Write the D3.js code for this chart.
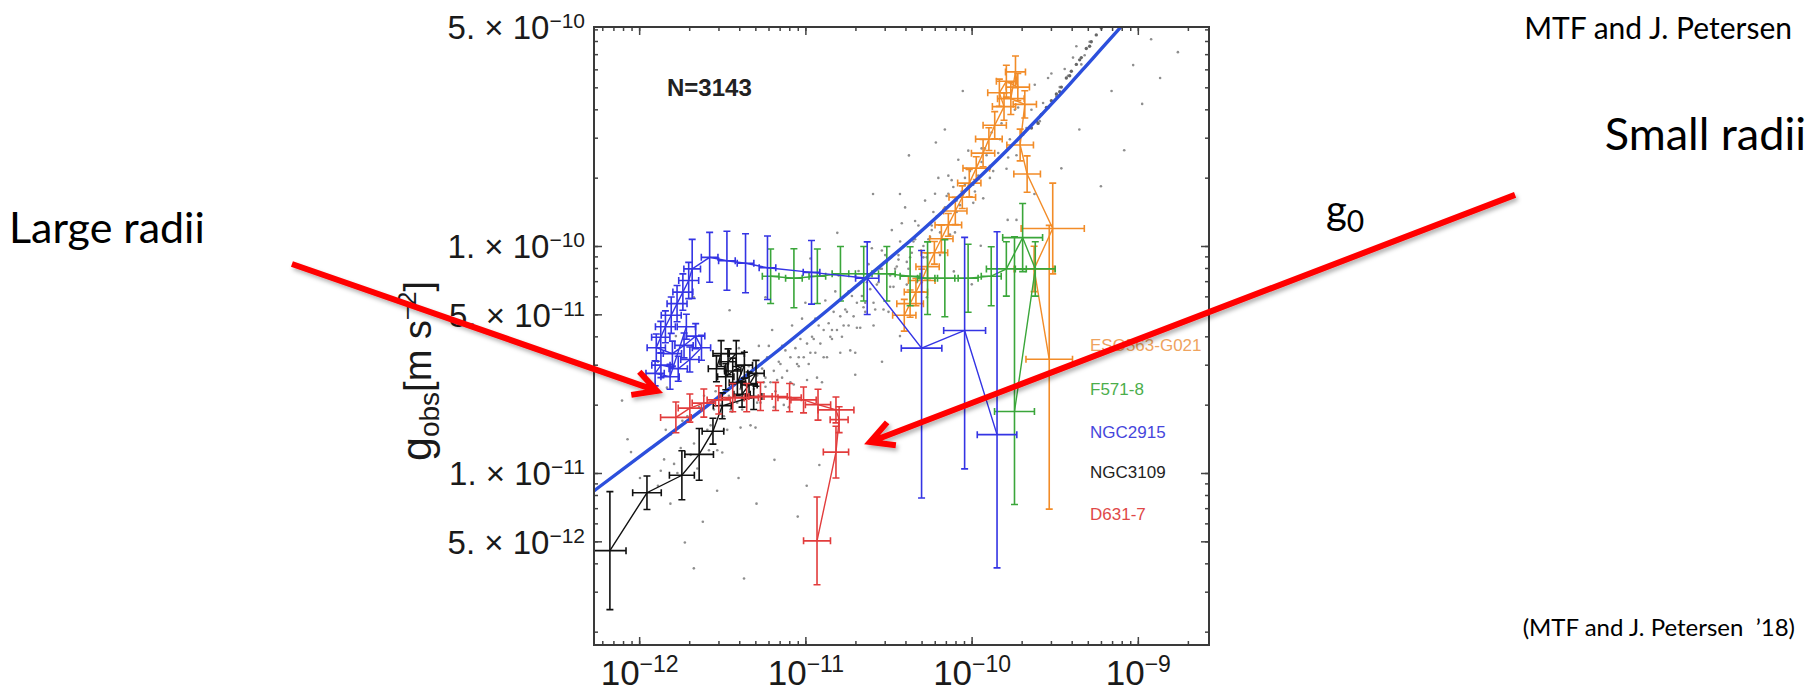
<!DOCTYPE html>
<html>
<head>
<meta charset="utf-8">
<script src="https://cdn.jsdelivr.net/npm/d3@7"></script>
<style>
  html, body { margin: 0; padding: 0; background: #fff; }
  svg { display: block; }
</style>
</head>
<body>
<svg id="chart" width="1818" height="691"></svg>
<script>
// axis ranges (m s^-2)
var xDomain = [5.35e-13, 2.68e-9];
var yDomain = [1.747e-12, 9.22e-10];
var xMajor = [1e-12, 1e-11, 1e-10, 1e-9];
var yMajor = [5e-12, 1e-11, 5e-11, 1e-10];
var yTopLabel = 5e-10;
var g0 = 1.91e-10;

// galaxies: [log10 gbar, log10 gobs, err gbar (dex), err gobs down (dex), err gobs up (dex)]
var eso563 = [
  [-9.533, -10.499, 0.14, 0.66, 0.59], [-9.624, -10.101, 0.12, 0.10], [-9.512, -9.923, 0.19, 0.20],
  [-9.666, -9.683, 0.08, 0.08], [-9.708, -9.555, 0.08, 0.07], [-9.680, -9.376, 0.07, 0.06],
  [-9.764, -9.351, 0.08, 0.07], [-9.736, -9.233, 0.06, 0.07], [-9.722, -9.300, 0.07, 0.06],
  [-9.791, -9.274, 0.06, 0.07], [-9.833, -9.325, 0.07, 0.06], [-9.805, -9.386, 0.07, 0.06],
  [-9.861, -9.468, 0.07, 0.06], [-9.896, -9.529, 0.08, 0.05], [-9.931, -9.591, 0.07, 0.06],
  [-9.972, -9.657, 0.08, 0.05], [-10.014, -9.723, 0.07, 0.06], [-10.056, -9.785, 0.08, 0.05],
  [-10.098, -9.846, 0.07, 0.06], [-10.140, -9.907, 0.08, 0.05], [-10.182, -9.968, 0.07, 0.06],
  [-10.224, -10.030, 0.08, 0.05], [-10.265, -10.091, 0.07, 0.06], [-10.300, -10.152, 0.08, 0.05],
  [-10.335, -10.203, 0.07, 0.06], [-10.370, -10.254, 0.08, 0.06], [-10.405, -10.305, 0.07, 0.07]
];
var f571 = [
  [-11.209, -10.133, 0.05, 0.12], [-11.069, -10.142, 0.05, 0.13], [-10.928, -10.133, 0.05, 0.12],
  [-10.789, -10.122, 0.05, 0.12], [-10.649, -10.122, 0.05, 0.12], [-10.510, -10.122, 0.05, 0.12],
  [-10.370, -10.133, 0.06, 0.13], [-10.265, -10.142, 0.06, 0.16], [-10.161, -10.142, 0.06, 0.17],
  [-10.021, -10.142, 0.06, 0.15], [-9.882, -10.133, 0.06, 0.13], [-9.791, -10.101, 0.12, 0.12],
  [-9.693, -9.963, 0.12, 0.15], [-9.617, -10.101, 0.12, 0.12], [-9.742, -10.729, 0.12, 0.41, 0.77]
];
var ngc2915 = [
  [-9.847, -10.831, 0.119, 0.587, 0.894], [-10.042, -10.372, 0.126, 0.61, 0.41],
  [-10.301, -10.450, 0.122, 0.66, 0.43], [-10.628, -10.142, 0.07, 0.16], [-10.963, -10.116, 0.05, 0.14],
  [-11.228, -10.096, 0.05, 0.14], [-11.360, -10.076, 0.05, 0.13], [-11.472, -10.065, 0.05, 0.13],
  [-11.576, -10.050, 0.05, 0.11], [-11.681, -10.101, 0.05, 0.13], [-11.702, -10.152, 0.06, 0.08],
  [-11.737, -10.203, 0.06, 0.08], [-11.772, -10.254, 0.06, 0.08], [-11.807, -10.305, 0.06, 0.08],
  [-11.842, -10.356, 0.06, 0.07], [-11.870, -10.402, 0.055, 0.07], [-11.897, -10.448, 0.055, 0.06],
  [-11.800, -10.474, 0.055, 0.055], [-11.730, -10.438, 0.055, 0.055], [-11.660, -10.397, 0.055, 0.055],
  [-11.625, -10.448, 0.055, 0.055], [-11.695, -10.500, 0.055, 0.055], [-11.765, -10.541, 0.055, 0.055],
  [-11.869, -10.525, 0.055, 0.055], [-11.904, -10.561, 0.055, 0.055], [-11.814, -10.576, 0.055, 0.055],
  [-11.716, -10.356, 0.055, 0.055]
];
var ngc3109 = [
  [-12.176, -11.342, 0.097, 0.26], [-11.953, -11.087, 0.086, 0.074], [-11.743, -11.010, 0.075, 0.108],
  [-11.639, -10.918, 0.086, 0.114], [-11.556, -10.816, 0.065, 0.057], [-11.500, -10.704, 0.054, 0.057],
  [-11.311, -10.663, 0.049, 0.057], [-11.381, -10.653, 0.049, 0.057], [-11.339, -10.612, 0.049, 0.057],
  [-11.297, -10.561, 0.049, 0.057], [-11.409, -10.602, 0.049, 0.057], [-11.367, -10.525, 0.049, 0.057],
  [-11.437, -10.551, 0.049, 0.057], [-11.479, -10.576, 0.049, 0.057], [-11.465, -10.510, 0.049, 0.057],
  [-11.416, -10.474, 0.049, 0.057], [-11.507, -10.474, 0.049, 0.057], [-11.535, -10.541, 0.049, 0.057]
];
var d631 = [
  [-10.930, -11.299, 0.081, 0.193], [-10.816, -10.908, 0.076, 0.114], [-10.797, -10.765, 0.054, 0.057],
  [-10.816, -10.722, 0.108, 0.057], [-10.924, -10.699, 0.076, 0.068], [-11.011, -10.678, 0.076, 0.057],
  [-11.095, -10.668, 0.07, 0.062], [-11.179, -10.663, 0.07, 0.062], [-11.270, -10.663, 0.07, 0.062],
  [-11.353, -10.668, 0.07, 0.062], [-11.437, -10.668, 0.07, 0.062], [-11.521, -10.678, 0.07, 0.062],
  [-11.611, -10.692, 0.07, 0.062], [-11.695, -10.714, 0.07, 0.062], [-11.779, -10.755, 0.092, 0.068]
];

// fitted relation
var rarGbar = [5.3e-13, 1.15e-12, 2.42e-12, 3.74e-12, 6.5e-12, 1.37e-11, 2.9e-11, 4.5e-11, 7.8e-11, 1.65e-10, 3.48e-10, 5.38e-10, 7.94e-10, 1.17e-9];
var rarGobs = [8.3e-12, 1.27e-11, 1.91e-11, 2.45e-11, 3.36e-11, 5.24e-11, 8.3e-11, 1.09e-10, 1.57e-10, 2.66e-10, 4.71e-10, 6.73e-10, 9.25e-10, 1.26e-9];

// gray cloud of all data points (sampled), [log10 gbar, log10 gobs]
var cloud = [
  [-11.84,-10.81],[-11.87,-10.99],[-11.85,-10.94],[-11.79,-10.96],[-11.81,-10.83],[-11.74,-10.77],[-11.77,-11.00],
  [-11.75,-10.89],[-11.69,-10.92],[-11.71,-10.75],[-11.64,-10.71],[-11.67,-10.87],[-11.65,-10.98],[-11.59,-10.81],
  [-11.61,-10.66],[-11.58,-10.90],[-11.54,-10.64],[-11.57,-10.79],[-11.53,-10.90],[-11.55,-10.72],[-11.49,-10.81],
  [-11.52,-10.66],[-11.48,-10.55],[-11.50,-10.91],[-11.44,-10.69],[-11.47,-10.81],[-11.43,-10.61],[-11.45,-10.72],
  [-11.39,-10.80],[-11.42,-10.52],[-11.38,-10.72],[-11.40,-10.45],[-11.34,-10.53],[-11.37,-10.68],[-11.33,-10.79],
  [-11.35,-10.61],[-11.29,-10.69],[-11.32,-10.55],[-11.28,-10.44],[-11.30,-10.80],[-11.24,-10.58],[-11.27,-10.69],
  [-11.23,-10.49],[-11.25,-10.60],[-11.19,-10.71],[-11.22,-10.44],[-11.18,-10.64],[-11.20,-10.37],[-11.14,-10.44],
  [-11.17,-10.59],[-11.13,-10.70],[-11.15,-10.52],[-11.09,-10.60],[-11.12,-10.46],[-11.08,-10.35],[-11.10,-10.71],
  [-11.04,-10.49],[-11.07,-10.61],[-11.03,-10.41],[-11.05,-10.52],[-10.99,-10.59],[-11.02,-10.32],[-10.98,-10.52],
  [-11.00,-10.25],[-10.94,-10.32],[-10.97,-10.47],[-10.93,-10.58],[-10.95,-10.41],[-10.89,-10.49],[-10.92,-10.35],
  [-10.88,-10.24],[-10.90,-10.60],[-10.84,-10.37],[-10.87,-10.49],[-10.83,-10.29],[-10.85,-10.40],[-10.79,-10.47],
  [-10.82,-10.20],[-10.78,-10.40],[-10.80,-10.13],[-10.74,-10.20],[-10.77,-10.35],[-10.73,-10.46],[-10.75,-10.29],
  [-10.69,-10.36],[-10.72,-10.22],[-10.68,-10.11],[-10.70,-10.47],[-10.64,-10.25],[-10.67,-10.36],[-10.63,-10.16],
  [-10.65,-10.27],[-10.59,-10.35],[-10.62,-10.08],[-10.58,-10.28],[-10.60,-10.01],[-10.54,-10.02],[-10.57,-10.17],
  [-10.53,-10.28],[-10.55,-10.10],[-10.49,-10.18],[-10.52,-10.04],[-10.48,-9.93],[-10.50,-10.29],[-10.44,-10.06],
  [-10.47,-10.18],[-10.43,-9.98],[-10.45,-10.09],[-10.39,-10.17],[-10.42,-9.90],[-10.38,-10.10],[-10.40,-9.83],
  [-10.34,-9.89],[-10.37,-10.05],[-10.33,-10.16],[-10.35,-9.98],[-10.29,-10.05],[-10.32,-9.91],[-10.28,-9.80],
  [-10.30,-10.16],[-10.24,-9.93],[-10.27,-10.05],[-10.23,-9.85],[-10.25,-9.96],[-10.19,-10.04],[-10.22,-9.77],
  [-10.18,-9.97],[-10.20,-9.70],[-10.14,-9.69],[-10.17,-9.84],[-10.13,-9.95],[-10.15,-9.78],[-10.09,-9.85],
  [-10.12,-9.71],[-10.08,-9.62],[-10.10,-9.94],[-10.04,-9.73],[-10.07,-9.82],[-10.03,-9.66],[-9.99,-9.81],
  [-10.02,-9.58],[-9.98,-9.76],[-9.94,-9.57],[-9.97,-9.71],[-9.93,-9.79],[-9.89,-9.70],[-9.92,-9.57],
  [-9.88,-9.50],[-9.84,-9.59],[-9.87,-9.67],[-9.83,-9.53],[-9.79,-9.66],[-9.82,-9.46],[-9.78,-9.61],
  [-9.74,-9.40],[-9.77,-9.53],[-9.73,-9.60],[-9.69,-9.51],[-9.72,-9.39],[-9.64,-9.40],[-9.67,-9.48],
  [-9.59,-9.45],[-9.62,-9.29],[-9.54,-9.26],[-9.57,-9.37],[-9.49,-9.34],[-9.52,-9.24],[-9.44,-9.22],
  [-9.47,-9.30],[-9.39,-9.17],[-9.42,-9.25],[-9.34,-9.20],[-9.37,-9.12],[-9.29,-9.10],[-9.32,-9.16],
  // denser core of the band
  [-11.51,-10.70],[-11.49,-10.75],[-11.46,-10.66],[-11.44,-10.73],[-11.41,-10.69],[-11.39,-10.63],
  [-11.36,-10.60],[-11.34,-10.67],[-11.31,-10.63],[-11.29,-10.57],[-11.26,-10.54],[-11.24,-10.62],
  [-11.21,-10.60],[-11.19,-10.55],[-11.16,-10.51],[-11.14,-10.58],[-11.11,-10.55],[-11.09,-10.49],
  [-11.06,-10.45],[-11.04,-10.53],[-11.01,-10.49],[-10.99,-10.43],[-10.96,-10.40],[-10.94,-10.47],
  [-10.91,-10.43],[-10.89,-10.37],[-10.86,-10.34],[-10.84,-10.41],[-10.81,-10.37],[-10.79,-10.31],
  [-10.76,-10.28],[-10.74,-10.35],[-10.71,-10.31],[-10.69,-10.25],[-10.66,-10.22],[-10.64,-10.29],
  [-10.61,-10.19],[-10.59,-10.25],[-10.56,-10.16],[-10.54,-10.10],[-10.51,-10.07],[-10.49,-10.13],
  [-10.46,-10.10],[-10.44,-10.04],[-10.41,-10.00],[-10.39,-10.07],[-10.36,-10.03],[-10.34,-9.97],
  [-10.31,-9.94],[-10.29,-10.00],[-10.26,-9.97],[-10.24,-9.91],[-10.21,-9.87],[-10.19,-9.94],
  [-10.16,-9.83],[-10.14,-9.77],[-10.11,-9.74],[-10.09,-9.80],[-10.06,-9.76],[-10.04,-9.70],
  [-10.01,-9.67],[-9.99,-9.73],[-9.96,-9.69],[-9.94,-9.63],[-9.91,-9.60],[-9.89,-9.66],
  // scattered outliers
  [-12.103,-10.681],[-11.995,-11.022],[-11.887,-10.510],[-12.049,-10.908],[-11.812,-11.135],[-11.617,-11.215],
  [-11.531,-11.078],[-11.402,-11.022],[-11.294,-11.135],[-11.186,-10.942],[-11.046,-11.192],[-10.992,-11.056],
  [-10.916,-10.965],[-12.070,-10.851],[-11.887,-11.056],[-11.725,-11.306],[-11.833,-10.624],[-11.671,-11.420],
  [-11.369,-11.465],[-11.671,-10.226],[-11.456,-10.283],[-11.240,-10.226],[-10.970,-10.055],[-10.808,-9.942],
  [-10.593,-9.771],[-10.377,-9.601],[-10.161,-9.487],[-11.779,-10.397],[-8.974,-9.374],[-9.082,-9.578],
  [-9.222,-9.737],[-9.028,-9.203],[-8.920,-9.089],[-9.158,-9.317],[-9.352,-9.487],[-9.460,-9.658],
  [-8.866,-9.260],[-9.114,-8.976],[-10.053,-9.317],[-10.215,-9.544],[-10.431,-9.771],[-8.759,-9.146],
  [-9.622,-9.771],[-9.730,-9.885],[-10.269,-10.226],[-10.107,-10.112],[-9.945,-9.999],[-10.431,-10.397],
  [-10.539,-10.510],[-10.700,-10.567],[-9.999,-10.169],[-9.783,-9.885]
];
// one dense galaxy near the top of the band
var streak = [
  [-9.64,-9.48],[-9.61,-9.45],[-9.58,-9.42],[-9.55,-9.39],[-9.52,-9.36],[-9.49,-9.33],[-9.46,-9.30],
  [-9.43,-9.26],[-9.40,-9.23],[-9.37,-9.20],[-9.34,-9.17],[-9.31,-9.13],[-9.28,-9.10],[-9.25,-9.07],
  [-9.22,-9.04],[-9.60,-9.46],[-9.54,-9.39],[-9.47,-9.32],[-9.41,-9.25],[-9.35,-9.18],[-9.29,-9.12]
];

var legendNames = ["ESO563-G021", "F571-8", "NGC2915", "NGC3109", "D631-7"];
var legendColors = ["#efa35e", "#4cae4c", "#4646dc", "#222222", "#e04848"];
var seriesColors = ["#f28c28", "#3aa63a", "#3434e4", "#111111", "#e23c3c"];

// arrows in data coordinates [gbar, gobs]
var arrowLarge = {from: [8.15e-15, 8.33e-11], to: [1.28e-12, 2.30e-11]};
var arrowSmall = {from: [1.86e-7, 1.68e-10], to: [2.45e-11, 1.37e-11]};

var svg = d3.select("#chart"),
    margin = { top: 27, right: 609, bottom: 46, left: 594 },
    width = +svg.attr("width") - margin.left - margin.right,
    height = +svg.attr("height") - margin.top - margin.bottom;

svg.append("rect").attr("width", 1818).attr("height", 691).attr("fill", "#fff");

var defs = svg.append("defs");
defs.append("clipPath").attr("id", "clip")
  .append("rect").attr("width", width).attr("height", height);
defs.append("filter").attr("id", "shadow")
  .attr("x", "-20%").attr("y", "-50%").attr("width", "140%").attr("height", "200%")
  .append("feDropShadow")
  .attr("dx", 2).attr("dy", 3).attr("stdDeviation", 2)
  .attr("flood-color", "#000").attr("flood-opacity", 0.3);

var x = d3.scaleLog().domain(xDomain).range([0, width]);
var y = d3.scaleLog().domain(yDomain).range([height, 0]);
var p = function (v) { return Math.pow(10, v); };

var focus = svg.append("g")
  .attr("transform", "translate(" + margin.left + "," + margin.top + ")");
var plot = focus.append("g").attr("clip-path", "url(#clip)");

// gray points
plot.append("g").selectAll("circle")
  .data(cloud).join("circle")
  .attr("cx", function (d) { return x(p(d[0])); })
  .attr("cy", function (d) { return y(p(d[1])); })
  .attr("r", 1.3)
  .attr("fill", "#8e8e8e");

plot.append("g").selectAll("circle")
  .data(streak).join("circle")
  .attr("cx", function (d) { return x(p(d[0])); })
  .attr("cy", function (d) { return y(p(d[1])); })
  .attr("r", 1.7)
  .attr("fill", "#666");

function drawGalaxy(data, color) {
  var g = plot.append("g").attr("stroke", color).attr("fill", "none");
  g.append("path")
    .datum(data)
    .attr("d", d3.line()
      .x(function (d) { return x(p(d[0])); })
      .y(function (d) { return y(p(d[1])); }))
    .attr("stroke-width", 1.4);

  var cap = 3.5;
  var bars = g.selectAll("g.bar").data(data).join("g").attr("stroke-width", 1.6);
  bars.append("path").attr("d", function (d) {
    var up = d[4] !== undefined ? d[4] : d[3];
    var cx = x(p(d[0])), cy = y(p(d[1]));
    var x0 = x(p(d[0] - d[2])), x1 = x(p(d[0] + d[2]));
    var y0 = y(p(d[1] - d[3])), y1 = y(p(d[1] + up));
    return "M" + x0 + "," + cy + "H" + x1 +
      "M" + cx + "," + y0 + "V" + y1 +
      "M" + x0 + "," + (cy - cap) + "V" + (cy + cap) +
      "M" + x1 + "," + (cy - cap) + "V" + (cy + cap) +
      "M" + (cx - cap) + "," + y0 + "H" + (cx + cap) +
      "M" + (cx - cap) + "," + y1 + "H" + (cx + cap);
  });
}

drawGalaxy(eso563, seriesColors[0]);
drawGalaxy(f571, seriesColors[1]);
drawGalaxy(ngc2915, seriesColors[2]);

// blue relation
plot.append("path")
  .datum(rarGbar.map(function (v, i) { return [v, rarGobs[i]]; }))
  .attr("d", d3.line()
    .x(function (d) { return x(d[0]); })
    .y(function (d) { return y(d[1]); })
    .curve(d3.curveMonotoneX))
  .attr("fill", "none")
  .attr("stroke", "#2c4fdc")
  .attr("stroke-width", 3.4);

drawGalaxy(ngc3109, seriesColors[3]);
drawGalaxy(d631, seriesColors[4]);

// frame ticks (pointing inward)
var tickColor = "#444";
function frameAxis(axisFn, ticks, size, transform) {
  var a = focus.append("g")
    .attr("transform", transform)
    .call(axisFn.tickValues(ticks).tickSize(-size).tickFormat(""));
  a.select(".domain").remove();
  a.selectAll(".tick line").attr("stroke", tickColor).attr("stroke-width", 1.5);
  return a;
}
var xMinor = x.ticks(), yMinor = y.ticks();
frameAxis(d3.axisBottom(x), xMinor, 4, "translate(0," + height + ")");
frameAxis(d3.axisTop(x), xMinor, 4, "translate(0,0)");
frameAxis(d3.axisLeft(y), yMinor, 4, "translate(0,0)");
frameAxis(d3.axisRight(y), yMinor, 4, "translate(" + width + ",0)");
frameAxis(d3.axisTop(x), xMajor, 8, "translate(0,0)");
frameAxis(d3.axisRight(y), yMajor, 8, "translate(" + width + ",0)");

var tickFont = "'Liberation Sans', Arial, sans-serif";
var xAxis = frameAxis(d3.axisBottom(x), xMajor, 8, "translate(0," + height + ")");
xAxis.selectAll(".tick text")
  .attr("y", 40).attr("dy", 0)
  .attr("font-family", tickFont)
  .attr("font-size", 35)
  .attr("fill", "#1a1a1a")
  .each(function (d) {
    var t = d3.select(this).text(null);
    t.append("tspan").text("10");
    t.append("tspan").attr("dy", -13).attr("font-size", 23)
      .text("\u2212" + Math.round(-Math.log10(d)));
  });

function sciLabel(sel, v) {
  var e = Math.floor(Math.log10(v) + 1e-9);
  var m = Math.round(v / Math.pow(10, e));
  sel.append("tspan").text(m + ". \u00d7 10");
  sel.append("tspan").attr("dy", -11).attr("font-size", 21).text("\u2212" + (-e));
}

var yAxis = frameAxis(d3.axisLeft(y), yMajor, 8, "translate(0,0)");
yAxis.selectAll(".tick text")
  .attr("x", -9).attr("dy", 0).attr("y", 12)
  .attr("font-family", tickFont)
  .attr("font-size", 33)
  .attr("fill", "#1a1a1a")
  .each(function (d) { sciLabel(d3.select(this).text(null), d); });

// label printed at the top corner of the frame
var topLabel = focus.append("text")
  .attr("x", -9).attr("y", 12)
  .attr("text-anchor", "end")
  .attr("font-family", tickFont)
  .attr("font-size", 33)
  .attr("fill", "#1a1a1a");
sciLabel(topLabel, yTopLabel);

focus.append("rect")
  .attr("width", width).attr("height", height)
  .attr("fill", "none").attr("stroke", "#3a3a3a").attr("stroke-width", 2);

// y axis title
var yt = svg.append("text")
  .attr("transform", "translate(431,371) rotate(-90)")
  .attr("text-anchor", "middle")
  .attr("font-family", tickFont)
  .attr("fill", "#1a1a1a");
yt.append("tspan").attr("font-size", 43).text("g");
yt.append("tspan").attr("font-size", 28).attr("dy", 8).text("obs");
yt.append("tspan").attr("font-size", 38).attr("dy", -8).text("[m s");
yt.append("tspan").attr("font-size", 25).attr("dy", -15).text("\u22122");
yt.append("tspan").attr("font-size", 38).attr("dy", 15).text("]");

focus.append("text")
  .attr("x", 73).attr("y", 69)
  .attr("font-family", tickFont)
  .attr("font-weight", "bold").attr("font-size", 24).attr("fill", "#222")
  .text("N=3143");

// legend
svg.append("g").selectAll("text")
  .data(legendNames).join("text")
  .attr("x", 1090)
  .attr("y", function (d, i) { return [351, 395, 438, 478, 520][i]; })
  .attr("font-family", tickFont)
  .attr("font-size", 17)
  .attr("fill", function (d, i) { return legendColors[i]; })
  .text(function (d) { return d; });

// g0 line
focus.append("line")
  .attr("x1", 0).attr("x2", width - 2)
  .attr("y1", y(g0)).attr("y2", y(g0))
  .attr("stroke", "#000").attr("stroke-width", 5)
  .attr("stroke-dasharray", "5,17.6")
  .attr("filter", "url(#shadow)");

// slide annotations
var slideFont = "Lato, 'Open Sans', sans-serif";
var g0Label = svg.append("text").attr("x", 1326).attr("y", 224)
  .attr("font-family", slideFont).attr("fill", "#000");
g0Label.append("tspan").attr("font-size", 40).text("g");
g0Label.append("tspan").attr("font-size", 30).attr("dy", 8).text("0");

svg.append("text").attr("x", 1792).attr("y", 39).attr("text-anchor", "end")
  .attr("font-family", slideFont).attr("font-size", 30).attr("fill", "#000")
  .text("MTF and J. Petersen");
svg.append("text").attr("x", 1806).attr("y", 150).attr("text-anchor", "end")
  .attr("font-family", slideFont).attr("font-size", 45).attr("fill", "#000")
  .text("Small radii");
svg.append("text").attr("x", 9).attr("y", 243)
  .attr("font-family", slideFont).attr("font-size", 43).attr("fill", "#000")
  .text("Large radii");
svg.append("text").attr("x", 1795).attr("y", 636).attr("text-anchor", "end")
  .attr("font-family", slideFont).attr("font-size", 24).attr("fill", "#000")
  .text("(MTF and J. Petersen \u00a0\u201918)");

function drawArrow(a) {
  var x0 = margin.left + x(a.from[0]), y0 = margin.top + y(a.from[1]);
  var x1 = margin.left + x(a.to[0]), y1 = margin.top + y(a.to[1]);
  var ang = Math.atan2(y0 - y1, x0 - x1), len = 26, spread = 28 * Math.PI / 180;
  var w1 = [x1 + len * Math.cos(ang - spread), y1 + len * Math.sin(ang - spread)];
  var w2 = [x1 + len * Math.cos(ang + spread), y1 + len * Math.sin(ang + spread)];
  svg.append("path")
    .attr("d", "M" + x0 + "," + y0 + "L" + x1 + "," + y1 +
      "M" + w1[0] + "," + w1[1] + "L" + x1 + "," + y1 + "L" + w2[0] + "," + w2[1])
    .attr("fill", "none").attr("stroke", "#ff0000").attr("stroke-width", 6)
    .attr("stroke-linecap", "butt").attr("stroke-linejoin", "miter")
    .attr("filter", "url(#shadow)");
}
drawArrow(arrowLarge);
drawArrow(arrowSmall);
</script>
</body>
</html>
